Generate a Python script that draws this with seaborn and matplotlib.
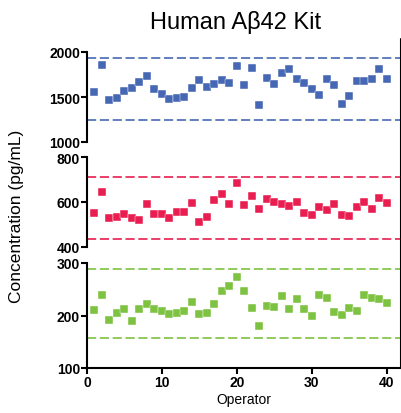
import matplotlib
matplotlib.use('Agg')
import matplotlib.pyplot as plt
import seaborn as sns
import pandas as pd
from matplotlib.lines import Line2D

# values
operator = list(range(1, 41))
kit_high = [1556, 1859, 1467, 1493, 1567, 1600, 1663, 1737, 1589, 1533,
            1481, 1485, 1496, 1604, 1689, 1611, 1648, 1689, 1659, 1844,
            1633, 1822, 1407, 1711, 1644, 1767, 1815, 1704, 1656, 1585,
            1526, 1700, 1637, 1422, 1515, 1674, 1674, 1700, 1811, 1700]
kit_mid = [553, 644, 527, 535, 548, 530, 521, 593, 545, 548,
           530, 557, 554, 595, 509, 532, 610, 637, 593, 685,
           587, 625, 571, 614, 599, 589, 581, 598, 550, 541,
           577, 566, 592, 542, 539, 577, 598, 568, 617, 595]
kit_low = [211, 240, 191, 204, 213, 189, 213, 222, 213, 208,
           203, 205, 208, 225, 203, 205, 222, 246, 257, 274,
           246, 215, 180, 218, 216, 238, 212, 231, 213, 199,
           239, 233, 206, 201, 214, 208, 239, 234, 232, 223]
limits_high = [1241, 1937]
limits_mid = [434, 710]
limits_low = [158, 288]
ylims = [(1000, 2000), (400, 800), (100, 300)]
yticks = [[1000, 1500, 2000], [400, 600, 800], [100, 200, 300]]
colors = ['#4668B4', '#E91E50', '#7DC241']

sns.set_style('white')
plt.rcParams['font.family'] = ['Liberation Sans', 'DejaVu Sans']
plt.rcParams['text.color'] = 'black'
plt.rcParams['axes.labelcolor'] = 'black'
plt.rcParams['xtick.color'] = 'black'
plt.rcParams['ytick.color'] = 'black'

fig = plt.figure(figsize=(4.02, 4.14), dpi=100)
W, H = 402, 414
left, right = 87, 401
# (top px, bottom px) of each panel
rows = [(53, 143), (158, 248), (264, 369)]

series = [kit_high, kit_mid, kit_low]
limits = [limits_high, limits_mid, limits_low]

for i, (top, bot) in enumerate(rows):
    ax = fig.add_axes([left / W, 1 - bot / H, (right - left) / W, (bot - top) / H])
    df = pd.DataFrame({'Operator': operator, 'Conc': series[i]})
    sns.scatterplot(data=df, x='Operator', y='Conc', ax=ax, marker='s', s=30,
                    color=colors[i], edgecolor='white', linewidth=0.3, zorder=3)
    for lim in limits[i]:
        ax.axhline(lim, color=colors[i], lw=1.2, ls=(0, (5.5, 2.2)), zorder=2)
    ax.set_xlim(0, 41.9)
    ax.set_ylim(*ylims[i])
    ax.set_yticks(yticks[i])
    ax.set_xlabel('')
    ax.set_ylabel('')
    for s in ['top', 'right']:
        ax.spines[s].set_visible(False)
    ax.spines['left'].set_linewidth(1.5)
    ax.spines['left'].set_color('black')
    ax.tick_params(axis='y', direction='out', length=4, width=1.5, color='black',
                   left=True, pad=1, labelsize=10, labelcolor='black')
    if i < 2:
        ax.spines['bottom'].set_visible(False)
        ax.set_xticks([])
    else:
        ax.spines['bottom'].set_linewidth(1.5)
        ax.spines['bottom'].set_color('black')
        ax.set_xticks([0, 10, 20, 30, 40])
        ax.tick_params(axis='x', direction='out', length=4, width=1.5, color='black',
                       bottom=True, pad=1, labelsize=10, labelcolor='black')
        ax.set_xlabel('Operator', fontsize=10, labelpad=2, color='black')
    for lab in ax.get_yticklabels() + ax.get_xticklabels():
        lab.set_fontweight('bold')

# right frame line
fig.add_artist(Line2D([right / W, right / W], [1 - 369 / H, 1 - 40 / H],
                      color='black', lw=1.5, transform=fig.transFigure))

fig.text(17 / W, 1 - 216 / H, 'Concentration (pg/mL)', rotation=90,
         ha='center', va='center', fontsize=12.5, color='black')
fig.text(236 / W, 1 - 23 / H, 'Human A\u03b242 Kit', ha='center', va='center',
         fontsize=17, color='black')

fig.savefig('out.png', dpi=100)
